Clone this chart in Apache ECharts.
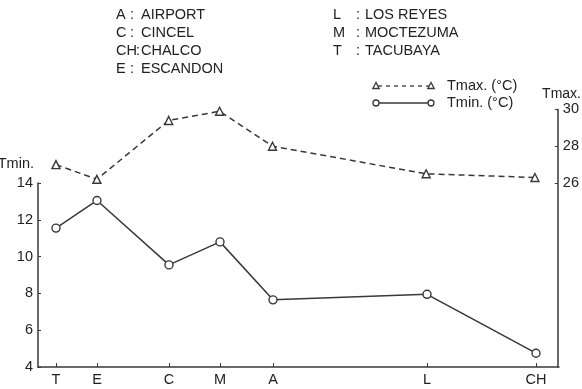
<!DOCTYPE html>
<html>
<head>
<meta charset="utf-8">
<script src="https://cdn.jsdelivr.net/npm/echarts@6/dist/echarts.min.js"></script>
<style>
  html, body { margin: 0; padding: 0; background: #fff; }
  #chart { width: 582px; height: 389px; }
</style>
</head>
<body>
<div id="chart"></div>
<script>
// Stations along the transect, with their placement on the horizontal axis
var stations = ['T', 'E', 'C', 'M', 'A', 'L', 'CH'];
var stationX = [18, 59, 131, 182, 235, 389, 498];

// Mean temperatures (°C)
var tMax = [27.0, 26.2, 29.4, 29.9, 28.0, 26.5, 26.3];
var tMin = [11.55, 13.05, 9.55, 10.8, 7.65, 7.95, 4.75];

// Tick labels
var tMinTicks = [4, 6, 8, 10, 12, 14];
var tMaxTicks = [26, 28, 30];

// Station key
var keyLeft = [['A', 'AIRPORT'], ['C', 'CINCEL'], ['CH', 'CHALCO'], ['E', 'ESCANDON']];
var keyRight = [['L', 'LOS REYES'], ['M', 'MOCTEZUMA'], ['T', 'TACUBAYA']];

var ink = '#383838';
var font = 'Liberation Sans, Arial, sans-serif';

function pairs(xs, ys) {
  return xs.map(function (x, i) { return [x, ys[i]]; });
}

var graphics = [];
function txt(x, y, s, align, size) {
  graphics.push({
    type: 'text', x: x, y: y,
    style: { text: s, fill: '#222', font: (size || 14.5) + 'px ' + font, textAlign: align || 'left', textVerticalAlign: 'middle' }
  });
}
keyLeft.forEach(function (k, i) {
  var y = 15 + i * 18;
  txt(116, y, k[0]);
  txt(k[0].length > 1 ? 136 : 130, y, ':');
  txt(141, y, k[1]);
});
keyRight.forEach(function (k, i) {
  var y = 15 + i * 18;
  txt(333, y, k[0]);
  txt(356, y, ':');
  txt(365, y, k[1]);
});

// Axis titles
txt(34, 164, 'Tmin.', 'right');
txt(581, 94, 'Tmax.', 'right', 14);

// Legend drawn as line samples with a marker at each end
function legendRow(y, dashed, symbol, label) {
  graphics.push({
    type: 'line', shape: { x1: 378, y1: y, x2: 429, y2: y },
    style: { stroke: ink, lineWidth: 1.3, lineDash: dashed ? [4, 4] : null }
  });
  [376, 431].forEach(function (cx) {
    if (symbol === 'circle') {
      graphics.push({ type: 'circle', shape: { cx: cx, cy: y, r: 3 },
        style: { fill: '#fff', stroke: ink, lineWidth: 1.3 } });
    } else {
      graphics.push({ type: 'polygon', shape: { points: [[cx, y - 3.5], [cx - 3.2, y + 2.5], [cx + 3.2, y + 2.5]] },
        style: { fill: '#fff', stroke: ink, lineWidth: 1.3 } });
    }
  });
  txt(447, y, label);
}
legendRow(86, true, 'triangle', 'Tmax. (°C)');
legendRow(103, false, 'circle', 'Tmin. (°C)');

var chart = echarts.init(document.getElementById('chart'), null, { renderer: 'canvas' });
chart.setOption({
  animation: false,
  backgroundColor: '#fff',
  textStyle: { fontFamily: font },
  grid: [
    { left: 38, right: 23, top: 183, bottom: 22 },
    { left: 38, right: 23, top: 109.4, bottom: 22 }
  ],
  xAxis: [
    {
      gridIndex: 0, type: 'value', min: 0, max: 521,
      axisLine: { onZero: false, lineStyle: { color: ink, width: 1.5 } },
      axisTick: { inside: true, length: 4, customValues: stationX, lineStyle: { color: ink } },
      axisLabel: {
        customValues: stationX, margin: 5, color: '#222', fontSize: 14.5, fontFamily: font,
        formatter: function (v) { var i = stationX.indexOf(v); return i >= 0 ? stations[i] : ''; }
      },
      splitLine: { show: false }
    },
    { gridIndex: 1, type: 'value', min: 0, max: 521, show: false }
  ],
  yAxis: [
    {
      gridIndex: 0, type: 'value', min: 4, max: 14, interval: 2,
      axisLine: { show: true, onZero: false, lineStyle: { color: ink, width: 1.5 } },
      axisTick: { show: true, inside: true, length: 3, customValues: tMinTicks, lineStyle: { color: ink } },
      axisLabel: { customValues: tMinTicks, margin: 5, color: '#222', fontSize: 14.5, fontFamily: font },
      splitLine: { show: false }
    },
    {
      gridIndex: 1, type: 'value', position: 'right', min: 16, max: 30, interval: 2,
      axisLine: { show: true, onZero: false, lineStyle: { color: ink, width: 1.5 } },
      axisTick: { show: true, inside: true, length: 3, customValues: tMaxTicks, lineStyle: { color: ink } },
      axisLabel: { customValues: tMaxTicks, margin: 5, color: '#222', fontSize: 14.5, fontFamily: font },
      splitLine: { show: false }
    }
  ],
  series: [
    {
      name: 'Tmin. (°C)', type: 'line', xAxisIndex: 0, yAxisIndex: 0,
      data: pairs(stationX, tMin),
      symbol: 'circle', symbolSize: 8,
      lineStyle: { color: ink, width: 1.5 },
      itemStyle: { color: '#fff', borderColor: ink, borderWidth: 1.4 }
    },
    {
      name: 'Tmax. (°C)', type: 'line', xAxisIndex: 1, yAxisIndex: 1,
      data: pairs(stationX, tMax),
      symbol: 'triangle', symbolSize: 8,
      lineStyle: { color: ink, width: 1.5, type: [6, 4] },
      itemStyle: { color: '#fff', borderColor: ink, borderWidth: 1.4 }
    }
  ],
  graphic: graphics
});
</script>
</body>
</html>
